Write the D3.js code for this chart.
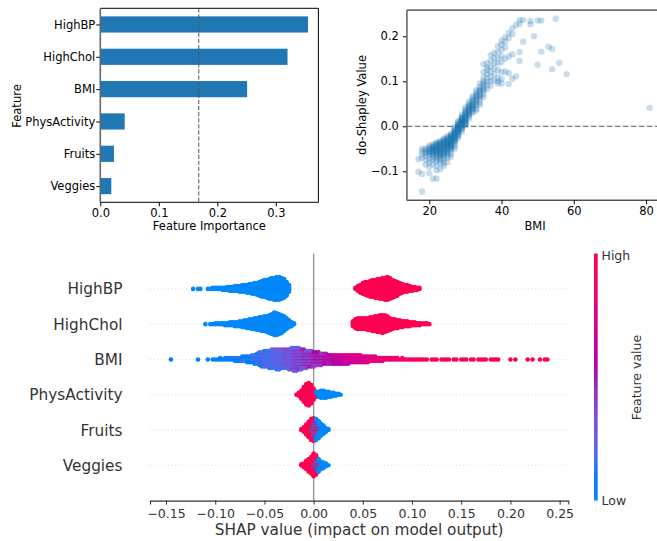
<!DOCTYPE html>
<html>
<head>
<meta charset="utf-8">
<title>Feature importance and SHAP values</title>
<script src="https://cdnjs.cloudflare.com/ajax/libs/d3/7.8.5/d3.min.js"></script>
<style>
	body { margin: 0; background: #fff; }
</style>
</head>
<body>
<svg id="chart" width="657" height="541"></svg>
<script>
// ---- data ----
var features = ["HighBP", "HighChol", "BMI", "PhysActivity", "Fruits", "Veggies"];
var importance = [0.355, 0.320, 0.251, 0.0417, 0.0234, 0.0188];
var importanceTicks = [0, 0.1, 0.2, 0.3];

// do-Shapley value of BMI: [bmi, values seen at that bmi]
var bmiShapley = [
	[17, [-0.073, -0.101]],
	[18, [-0.05, -0.055, -0.062, -0.07, -0.106, -0.145]],
	[19, [-0.05, -0.052, -0.057, -0.06, -0.066, -0.075, -0.085]],
	[20, [-0.043, -0.047, -0.05, -0.052, -0.055, -0.058, -0.06, -0.064, -0.072, -0.08, -0.09, -0.104]],
	[21, [-0.04, -0.044, -0.045, -0.047, -0.049, -0.05, -0.052, -0.053, -0.055, -0.057, -0.058, -0.062, -0.066, -0.07, -0.075, -0.085, -0.116]],
	[22, [-0.036, -0.038, -0.04, -0.042, -0.044, -0.046, -0.048, -0.05, -0.051, -0.053, -0.055, -0.056, -0.059, -0.061, -0.063, -0.068, -0.073, -0.078, -0.088, -0.098, -0.116]],
	[23, [-0.033, -0.035, -0.037, -0.039, -0.041, -0.043, -0.045, -0.047, -0.048, -0.05, -0.052, -0.053, -0.056, -0.058, -0.06, -0.063, -0.065, -0.067, -0.071, -0.076, -0.082, -0.095]],
	[24, [-0.027, -0.03, -0.032, -0.033, -0.036, -0.038, -0.039, -0.04, -0.042, -0.044, -0.045, -0.047, -0.049, -0.05, -0.053, -0.055, -0.058, -0.06, -0.062, -0.065, -0.07, -0.076, -0.082, -0.088]],
	[25, [-0.022, -0.025, -0.027, -0.028, -0.031, -0.033, -0.034, -0.035, -0.037, -0.038, -0.04, -0.042, -0.043, -0.044, -0.046, -0.049, -0.05, -0.053, -0.056, -0.058, -0.06, -0.065, -0.07, -0.08]],
	[26, [-0.016, -0.019, -0.021, -0.022, -0.025, -0.026, -0.027, -0.028, -0.031, -0.032, -0.033, -0.034, -0.036, -0.037, -0.039, -0.04, -0.042, -0.043, -0.045, -0.047, -0.048, -0.05, -0.055, -0.062, -0.068]],
	[27, [-0.002, -0.005, -0.008, -0.01, -0.011, -0.013, -0.015, -0.016, -0.017, -0.019, -0.02, -0.021, -0.022, -0.023, -0.025, -0.026, -0.027, -0.028, -0.03, -0.032, -0.033, -0.036, -0.04, -0.045, -0.05]],
	[28, [0.012, 0.009, 0.006, 0.004, 0.003, 0.002, 0, -0.001, -0.002, -0.003, -0.004, -0.005, -0.006, -0.007, -0.008, -0.009, -0.01, -0.012, -0.013, -0.015, -0.018, -0.02, -0.022, -0.027]],
	[29, [0.026, 0.022, 0.019, 0.018, 0.016, 0.014, 0.013, 0.012, 0.011, 0.01, 0.009, 0.008, 0.006, 0.005, 0.004, 0.003, 0.002, 0.001, 0, -0.003, -0.005, -0.007, -0.012]],
	[30, [0.042, 0.038, 0.034, 0.031, 0.03, 0.028, 0.025, 0.023, 0.022, 0.021, 0.019, 0.017, 0.016, 0.014, 0.013, 0.011, 0.009, 0.007, 0.006, 0.004, 0.002]],
	[31, [0.055, 0.05, 0.046, 0.045, 0.043, 0.04, 0.037, 0.035, 0.034, 0.032, 0.029, 0.027, 0.026, 0.022, 0.017]],
	[32, [0.067, 0.063, 0.058, 0.055, 0.054, 0.05, 0.047, 0.045, 0.044, 0.041, 0.039, 0.037, 0.032, 0.03]],
	[33, [0.08, 0.076, 0.07, 0.068, 0.065, 0.06, 0.058, 0.055, 0.05, 0.045, 0.039, 0.035]],
	[34, [0.095, 0.088, 0.082, 0.08, 0.077, 0.071, 0.068, 0.066, 0.06, 0.053, 0.048]],
	[35, [0.138, 0.12, 0.108, 0.1, 0.095, 0.093, 0.086, 0.082, 0.079, 0.072, 0.065]],
	[36, [0.14, 0.13, 0.125, 0.116, 0.107, 0.099, 0.091, 0.083]],
	[37, [0.158, 0.145, 0.132, 0.121, 0.11, 0.1, 0.09]],
	[38, [0.163, 0.152, 0.14, 0.128, 0.115, 0.102]],
	[39, [0.178, 0.165, 0.152, 0.14, 0.125, 0.108, 0.1, 0.095]],
	[40, [0.19, 0.182, 0.17, 0.156, 0.143, 0.12, 0.105, 0.095]],
	[41, [0.198, 0.188, 0.175, 0.15, 0.122]],
	[42, [0.208, 0.196, 0.155, 0.118, 0.094]],
	[43, [0.218, 0.205, 0.16, 0.106]],
	[44, [0.225, 0.111]],
	[45, [0.236, 0.228, 0.165, 0.145]],
	[46, [0.236, 0.188]],
	[48, [0.234, 0.227]],
	[49, [0.2]],
	[50, [0.235, 0.137]],
	[51, [0.235, 0.166]],
	[53, [0.177]],
	[54, [0.172, 0.127]],
	[55, [0.239]],
	[56, [0.141]],
	[58, [0.116]],
	[81, [0.041]]
];
var bmiTicks = [20, 40, 60, 80];
var shapleyTicks = [-0.1, 0, 0.1, 0.2];

// SHAP summary: [first bin centre, samples per 0.0025 bin]
var binWidth = 0.0025;
var highBPLow = [-0.1225, [1,0,1,1,0,0,1,1,2,2,2,2,3,3,4,5,5,6,6,7,8,8,9,10,11,12,13,15,17,18,19,21,22,23,24,24,22,20,15,8]];
var highBPHigh = [0.0425, [2,6,9,12,14,15,17,18,19,20,21,22,23,24,22,19,17,15,12,10,8,8,6,5,4,3,2]];
var highCholLow = [-0.11, [1,0,1,1,2,2,2,2,3,3,4,4,5,5,6,7,8,9,10,11,12,13,14,15,16,17,19,21,24,23,21,19,16,12,8,5,2]];
var highCholHigh = [0.04, [6,10,12,12,12,12,13,14,15,16,17,18,19,18,16,13,11,10,9,8,7,6,6,5,4,4,3,3,2,2,2,1]];
var physLow = [0.0025, [3,6,8,8,7,6,5,4,3,2,1]];
var physHigh = [-0.0175, [1,4,9,16,22,24,20,12,3]];
var fruitsLow = [-0.0025, [4,10,14,16,14,10,5,2]];
var fruitsHigh = [-0.0125, [2,6,12,18,20,16,10,4]];
var veggiesLow = [0, [4,8,10,9,7,4,1]];
var veggiesHigh = [-0.0125, [2,5,10,15,19,22,14,5]];
var bmiRow = [-0.145, [
	1,0,0,0,0,0,0,0,0,0,
	0,1,0,0,0,1,0,1,1,1,
	2,1,2,2,2,2,3,3,3,4,
	4,5,5,6,7,8,10,11,12,12,
	13,14,14,15,15,14,14,14,15,16,
	17,17,16,15,14,13,12,12,11,10,
	10,9,8,8,7,7,7,7,7,7,
	7,7,7,6,6,6,6,6,5,5,
	5,4,4,4,3,3,3,2,2,2,
	2,2,2,1,2,1,1,1,1,1,
	1,1,1,1,1,0,1,1,1,0,
	1,1,1,1,0,1,1,0,1,1,
	1,0,1,1,0,1,1,1,1,0,
	1,1,1,1,0,0,0,0,1,0,
	1,0,0,0,0,1,0,1,0,0,
	1,0,1,1]];
// BMI colour level (0 low .. 1 high) per 0.01 of SHAP value from -0.15, two mixed groups
var bmiLevelStart = -0.15;
var bmiLevelA = [.05,.05,.05,.05,.05,.05,.05,.08,.08,.1,.12,.15,.2,.25,.3,.4,.48,.55,.62,.68,.72,.75,.78,.82,.9,.95,.97,.97,.97,.97,.97,.97,.97,.97,.97,.97,.97,.97,.97,.97];
var bmiLevelB = [.05,.05,.05,.05,.05,.08,.1,.12,.15,.2,.25,.3,.38,.45,.5,.55,.62,.68,.72,.76,.8,.82,.85,.9,.95,1,1,1,1,1,1,1,1,1,1,1,1,1,1,1];
var shapTicks = [-0.15, -0.10, -0.05, 0.00, 0.05, 0.10, 0.15, 0.20, 0.25];

var svg = d3.select("#chart");
var FONT = "DejaVu Sans, sans-serif";

// shap red_blue colormap (lch blend)
function redBlue(t) {
	var l = t < 0.5 ? 54 - 28 * t : 40 + 28 * (t - 0.5);
	var c = 70 + 20 * t;
	var h = 266.93 + (380.32 - 266.93) * t;
	return d3.hcl(h, c, l).formatHex();
}

function styleAxis(g, size, color) {
	g.attr("font-family", FONT).attr("font-size", size);
	g.selectAll(".tick text").attr("fill", color);
	g.selectAll(".tick line").attr("stroke", color);
}

// ---- bar chart: feature importance ----
var barLeft = 100.3, barRight = 318.4, barTop = 8.3, barBottom = 202.3;
var barX = d3.scaleLinear().domain([0, 0.3728]).range([barLeft, barRight]);
var barY = d3.scalePoint().domain(features).range([barTop, barBottom]).padding(0.5);
var bh = barY.step() / 2;
var bar = svg.append("g");

bar.selectAll("rect.bar").data(features).enter().append("rect")
	.attr("x", barX(0))
	.attr("y", function (d) { return barY(d) - bh / 2; })
	.attr("width", function (d, i) { return barX(importance[i]) - barX(0); })
	.attr("height", bh)
	.attr("fill", "#1f77b4");

bar.append("line")
	.attr("x1", barX(d3.mean(importance))).attr("x2", barX(d3.mean(importance)))
	.attr("y1", barTop).attr("y2", barBottom)
	.attr("stroke", "#555").attr("stroke-width", 1).attr("stroke-dasharray", "4.3,1.8");

var bxa = bar.append("g").attr("transform", "translate(0," + barBottom + ")")
	.call(d3.axisBottom(barX).tickValues(importanceTicks).tickFormat(d3.format(".1f")).tickSize(4).tickPadding(2.5));
bxa.select(".domain").remove();
styleAxis(bxa, "11.5px", "#000");

var bya = bar.append("g").attr("transform", "translate(" + barLeft + ",0)")
	.call(d3.axisLeft(barY).tickSize(4).tickPadding(1));
bya.select(".domain").remove();
styleAxis(bya, "11.5px", "#000");

bar.append("path")
	.attr("d", "M" + barLeft + "," + barTop + "H" + barRight + "V" + barBottom + "H" + barLeft)
	.attr("fill", "none").attr("stroke", "#000").attr("stroke-width", 1);
bar.append("line").attr("x1", barLeft).attr("x2", barLeft).attr("y1", barTop).attr("y2", barBottom)
	.attr("stroke", "#666").attr("stroke-width", 1.6);

bar.append("text").attr("x", (barLeft + barRight) / 2).attr("y", 230)
	.attr("text-anchor", "middle").attr("font-family", FONT).attr("font-size", "11.5px")
	.text("Feature Importance");
bar.append("text").attr("transform", "translate(21,106) rotate(-90)")
	.attr("text-anchor", "middle").attr("font-family", FONT).attr("font-size", "11.5px")
	.text("Feature");

// ---- scatter: do-Shapley value vs BMI ----
var scLeft = 406.9, scRight = 661.2, scTop = 10.1, scBottom = 200.2;
var scX = d3.scaleLinear().domain([13.8, 84.2]).range([scLeft, scRight]);
var scY = d3.scaleLinear().domain([-0.1642, 0.2582]).range([scBottom, scTop]);
var sc = svg.append("g");

var bmiPoints = [];
bmiShapley.forEach(function (row) {
	row[1].forEach(function (v) { bmiPoints.push({bmi: row[0], value: v}); });
});

sc.append("line")
	.attr("x1", scLeft).attr("x2", scRight).attr("y1", scY(0)).attr("y2", scY(0))
	.attr("stroke", "#777").attr("stroke-width", 1.3).attr("stroke-dasharray", "5.5,2.5");

sc.selectAll("circle").data(bmiPoints).enter().append("circle")
	.attr("cx", function (d) { return scX(d.bmi); })
	.attr("cy", function (d) { return scY(d.value); })
	.attr("r", 3.2)
	.attr("fill", "#1f77b4").attr("fill-opacity", 0.25);

var sxa = sc.append("g").attr("transform", "translate(0," + scBottom + ")")
	.call(d3.axisBottom(scX).tickValues(bmiTicks).tickFormat(d3.format("d")).tickSize(4).tickPadding(2.5));
sxa.select(".domain").remove();
styleAxis(sxa, "11.5px", "#000");

var sya = sc.append("g").attr("transform", "translate(" + scLeft + ",0)")
	.call(d3.axisLeft(scY).tickValues(shapleyTicks).tickFormat(d3.format(".1f")).tickSize(4).tickPadding(4));
sya.select(".domain").remove();
styleAxis(sya, "11.5px", "#000");

sc.append("path")
	.attr("d", "M" + scLeft + "," + scTop + "H" + scRight + "V" + scBottom + "H" + scLeft)
	.attr("fill", "none").attr("stroke", "#000").attr("stroke-width", 1);
sc.append("line").attr("x1", scLeft).attr("x2", scLeft).attr("y1", scTop).attr("y2", scBottom)
	.attr("stroke", "#666").attr("stroke-width", 1.6);

sc.append("text").attr("x", 535).attr("y", 230)
	.attr("text-anchor", "middle").attr("font-family", FONT).attr("font-size", "11.5px")
	.text("BMI");
sc.append("text").attr("transform", "translate(365.5,105) rotate(-90)")
	.attr("text-anchor", "middle").attr("font-family", FONT).attr("font-size", "11.5px")
	.text("do-Shapley Value");

// ---- SHAP summary (beeswarm) ----
var shLeft = 150, shRight = 568.3, shAxisY = 500.6;
var shapX = d3.scaleLinear().domain([-0.1663, 0.2588]).range([shLeft, shRight]);
var rowY = d3.scaleLinear().domain([-1, 6]).range([shAxisY, 253.6]);
var rowStep = rowY(0) - rowY(1);
var order = ["Veggies", "Fruits", "PhysActivity", "BMI", "HighChol", "HighBP"];
var LOW = redBlue(0), HIGH = redBlue(1);
var sh = svg.append("g");

order.forEach(function (f, i) {
	sh.append("line").attr("x1", shLeft).attr("x2", shRight)
		.attr("y1", rowY(i)).attr("y2", rowY(i))
		.attr("stroke", "#d0d0d0").attr("stroke-width", 0.8).attr("stroke-dasharray", "1,2.6");
});
sh.append("line").attr("x1", shapX(0)).attr("x2", shapX(0))
	.attr("y1", rowY(6)).attr("y2", shAxisY)
	.attr("stroke", "#999").attr("stroke-width", 1.4);

// stack order inside a bin: one of group a, then pairs of b, a, b ... (one above, one below)
function pairSequence(na, nb) {
	var seq = [], turn = "b";
	if (na > 0) { seq.push("a"); na--; } else if (nb > 0) { seq.push("b"); nb--; }
	while (na + nb > 0) {
		for (var k = 0; k < 2; k++) {
			if (turn === "b" && nb > 0) { seq.push("b"); nb--; }
			else if (turn === "a" && na > 0) { seq.push("a"); na--; }
			else if (nb > 0) { seq.push("b"); nb--; }
			else if (na > 0) { seq.push("a"); na--; }
		}
		turn = turn === "b" ? "a" : "b";
	}
	return seq;
}

// expand the bins of one binary feature into samples
function binSamples(low, high) {
	var bins = new Map();
	function add(spec, key) {
		spec[1].forEach(function (n, k) {
			var x = +(spec[0] + k * binWidth).toFixed(5);
			if (!bins.has(x)) bins.set(x, {low: 0, high: 0});
			bins.get(x)[key] += n;
		});
	}
	add(high, "high");
	add(low, "low");
	var out = [];
	Array.from(bins.keys()).sort(d3.ascending).forEach(function (x) {
		var b = bins.get(x);
		pairSequence(b.high, b.low).forEach(function (c) {
			out.push({x: x, q: x, fill: c === "a" ? HIGH : LOW});
		});
	});
	return out;
}

// BMI row: counts per bin, coloured from the two level groups
function bmiSamples() {
	var out = [];
	bmiRow[1].forEach(function (n, k) {
		var x = +(bmiRow[0] + k * binWidth).toFixed(5);
		var li = Math.min(bmiLevelA.length - 1, Math.floor((x - bmiLevelStart) / 0.01 + 1e-6));
		var nb = Math.floor(n / 2), na = n - nb;
		pairSequence(na, nb).forEach(function (c) {
			out.push({x: x, q: x, fill: redBlue(c === "a" ? bmiLevelA[li] : bmiLevelB[li])});
		});
	});
	return out;
}

// shap style layering: within each bin alternate above and below the row
function layout(samples, pos) {
	var groups = d3.group(samples, function (d) { return d.q; });
	groups.forEach(function (list) {
		list.forEach(function (d, layer) {
			d.ys = Math.ceil(layer / 2) * ((layer % 2) * 2 - 1);
		});
	});
	var maxYs = d3.max(samples, function (d) { return d.ys; });
	var unit = 0.36 * rowStep / (maxYs + 1);
	samples.forEach(function (d) { d.y = rowY(pos) - d.ys * unit; });
	return samples;
}

function drawRow(samples) {
	sh.append("g").selectAll("circle").data(samples).enter().append("circle")
		.attr("cx", function (d) { return shapX(d.x); })
		.attr("cy", function (d) { return d.y; })
		.attr("r", 2.3)
		.attr("fill", function (d) { return d.fill; });
}

drawRow(layout(binSamples(veggiesLow, veggiesHigh), 0));
drawRow(layout(binSamples(fruitsLow, fruitsHigh), 1));
drawRow(layout(binSamples(physLow, physHigh), 2));
drawRow(layout(bmiSamples(), 3));
drawRow(layout(binSamples(highCholLow, highCholHigh), 4));
drawRow(layout(binSamples(highBPLow, highBPHigh), 5));

var sxAxis = sh.append("g").attr("transform", "translate(0," + shAxisY + ")")
	.call(d3.axisBottom(shapX).tickValues(shapTicks).tickFormat(d3.format(".2f")).tickSize(4).tickPadding(4.5));
sxAxis.select(".domain").attr("stroke", "#333").attr("stroke-width", 1.1);
styleAxis(sxAxis, "12.5px", "#333");

sh.selectAll("text.feat").data(order).enter().append("text")
	.attr("x", 122.5).attr("y", function (d, i) { return rowY(i); }).attr("dy", "0.36em")
	.attr("text-anchor", "end").attr("font-family", FONT).attr("font-size", "15.3px").attr("fill", "#333")
	.text(function (d) { return d; });

sh.append("text").attr("x", (shLeft + shRight) / 2).attr("y", 535)
	.attr("text-anchor", "middle").attr("font-family", FONT).attr("font-size", "15.3px").attr("fill", "#333")
	.text("SHAP value (impact on model output)");

// colour bar
var grad = svg.append("defs").append("linearGradient").attr("id", "rb")
	.attr("x1", 0).attr("y1", 1).attr("x2", 0).attr("y2", 0);
d3.range(0, 1.0001, 0.05).forEach(function (t) {
	grad.append("stop").attr("offset", t).attr("stop-color", redBlue(t));
});
sh.append("rect").attr("x", 594).attr("y", 253.6).attr("width", 3.7).attr("height", shAxisY - 253.6)
	.attr("fill", "url(#rb)");
sh.append("text").attr("x", 601.5).attr("y", 255.5).attr("dy", "0.36em")
	.attr("font-family", FONT).attr("font-size", "12.5px").attr("fill", "#333").text("High");
sh.append("text").attr("x", 601.5).attr("y", 500.5).attr("dy", "0.36em")
	.attr("font-family", FONT).attr("font-size", "12.5px").attr("fill", "#333").text("Low");
sh.append("text").attr("transform", "translate(641,377.5) rotate(-90)")
	.attr("text-anchor", "middle").attr("font-family", FONT).attr("font-size", "12.5px").attr("fill", "#333")
	.text("Feature value");
</script>
</body>
</html>
